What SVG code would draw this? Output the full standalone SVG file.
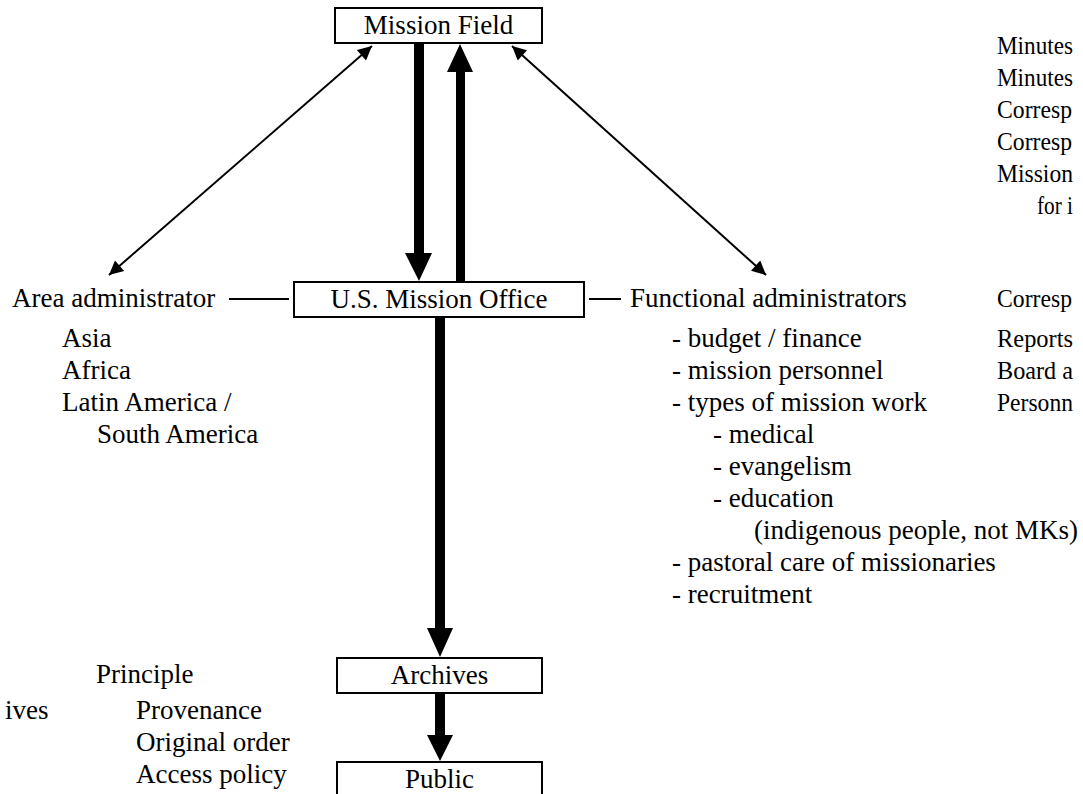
<svg xmlns="http://www.w3.org/2000/svg" width="1083" height="794" viewBox="0 0 1083 794">
<defs>
<style>
text{font-family:"Liberation Serif","Times New Roman",serif;font-size:27px;fill:#000}
.box{fill:#fff;stroke:#000;stroke-width:2}
.thin{stroke:#000;stroke-width:2;fill:none}
.thick{fill:#000;stroke:none}
.mid{text-anchor:middle}
.edge{font-size:26px}
</style>
<marker id="ah" viewBox="0 0 10 10" refX="10" refY="5" markerWidth="8" markerHeight="7" orient="auto-start-reverse" markerUnits="strokeWidth">
<path d="M0,0 L10,5 L0,10 z" fill="#000"/>
</marker>
</defs>
<rect width="1083" height="794" fill="#fff"/>
<g id="connectors">
<line class="thin" x1="372" y1="46" x2="109" y2="275" marker-start="url(#ah)" marker-end="url(#ah)"/>
<line class="thin" x1="512" y1="46" x2="766" y2="275" marker-start="url(#ah)" marker-end="url(#ah)"/>
<polygon class="thick" points="414,43 424,43 424,253 432,253 419,281 405,253 414,253"/>
<polygon class="thick" points="456,282 465,282 465,72 473,72 460,44 447,72 456,72"/>
<polygon class="thick" points="435,317 445,317 445,628 453,628 440,657 427,628 435,628"/>
<polygon class="thick" points="435,693 445,693 445,735 453,735 440,761 427,735 435,735"/>
<line class="thin" x1="229" y1="299" x2="289" y2="299"/>
<line class="thin" x1="589" y1="299" x2="621" y2="299"/>
</g>
<g id="mission-field">
<rect class="box" x="335" y="8" width="207" height="35"/>
<text class="mid" x="438.5" y="34">Mission Field</text>
</g>
<g id="us-mission-office">
<rect class="box" x="294" y="282" width="290" height="35"/>
<text class="mid" x="439" y="308">U.S. Mission Office</text>
</g>
<g id="archives">
<rect class="box" x="337" y="658" width="205" height="35"/>
<text class="mid" x="439.5" y="684">Archives</text>
</g>
<g id="public">
<rect class="box" x="337" y="762" width="205" height="40"/>
<text class="mid" x="439.5" y="788">Public</text>
</g>
<g id="area-administrator">
<text x="12" y="307">Area administrator</text>
<text x="62" y="347">Asia</text>
<text x="62" y="379">Africa</text>
<text x="62" y="411">Latin America /</text>
<text x="97" y="443">South America</text>
</g>
<g id="functional-administrators">
<text x="630" y="307">Functional administrators</text>
<text x="672" y="347">- budget / finance</text>
<text x="672" y="379">- mission personnel</text>
<text x="672" y="411">- types of mission work</text>
<text x="713" y="443">- medical</text>
<text x="713" y="475">- evangelism</text>
<text x="713" y="507">- education</text>
<text x="754" y="539">(indigenous people, not MKs)</text>
<text x="672" y="571">- pastoral care of missionaries</text>
<text x="672" y="603">- recruitment</text>
</g>
<g id="records-top">
<text class="edge" x="997" y="54" textLength="76" lengthAdjust="spacingAndGlyphs">Minutes</text>
<text class="edge" x="997" y="86" textLength="76" lengthAdjust="spacingAndGlyphs">Minutes</text>
<text class="edge" x="997" y="118" textLength="75" lengthAdjust="spacingAndGlyphs">Corresp</text>
<text class="edge" x="997" y="150" textLength="75" lengthAdjust="spacingAndGlyphs">Corresp</text>
<text class="edge" x="997" y="182" textLength="76" lengthAdjust="spacingAndGlyphs">Mission</text>
<text class="edge" x="1037" y="214" textLength="36" lengthAdjust="spacingAndGlyphs">for i</text>
</g>
<g id="records-office">
<text class="edge" x="997" y="307" textLength="75" lengthAdjust="spacingAndGlyphs">Corresp</text>
<text class="edge" x="997" y="347" textLength="76" lengthAdjust="spacingAndGlyphs">Reports</text>
<text class="edge" x="997" y="379" textLength="76" lengthAdjust="spacingAndGlyphs">Board a</text>
<text class="edge" x="997" y="411" textLength="76" lengthAdjust="spacingAndGlyphs">Personn</text>
</g>
<g id="principles">
<text x="96" y="683">Principle</text>
<text x="5" y="719">ives</text>
<text x="136" y="719">Provenance</text>
<text x="136" y="751">Original order</text>
<text x="136" y="783">Access policy</text>
</g>
</svg>
